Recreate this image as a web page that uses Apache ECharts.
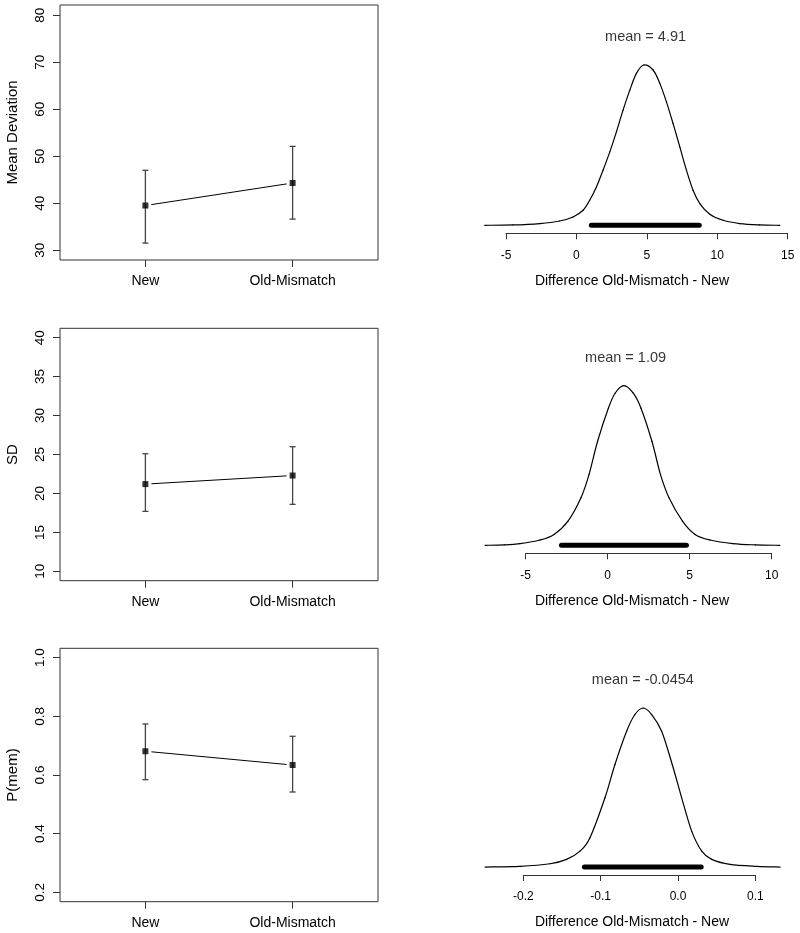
<!DOCTYPE html>
<html><head><meta charset="utf-8">
<script src="https://cdn.jsdelivr.net/npm/echarts@6/dist/echarts.min.js"></script>
<style>html,body{margin:0;padding:0;background:#fff}#c{width:800px;height:933px}</style>
</head><body><div id="c"></div>
<script>
// ---------- data ----------
const conditions = ["New", "Old-Mismatch"];

const meanDevMean = [39.5, 44.3];
const meanDevLo   = [31.5, 36.6];
const meanDevHi   = [47.0, 52.1];

const sdMean = [21.2, 22.3];
const sdLo   = [17.7, 18.6];
const sdHi   = [25.1, 26.0];

const pmemMean = [0.681, 0.634];
const pmemLo   = [0.584, 0.542];
const pmemHi   = [0.774, 0.732];

const yTicksMeanDev = [30, 40, 50, 60, 70, 80];
const yTicksSD      = [10, 15, 20, 25, 30, 35, 40];
const yTicksPmem    = [0.2, 0.4, 0.6, 0.8, 1.0];

const yLabels = ["Mean Deviation", "SD", "P(mem)"];

// posterior densities of the difference Old-Mismatch - New
const diffMeanDevX = [-6.51, -4.5, -2.60, -1.19, -0.24, 0.47, 0.94, 1.42, 1.89, 2.37, 2.84, 3.31, 3.79, 4.26, 4.78, 5.44, 5.92, 6.39, 6.86, 7.34, 7.81, 8.28, 8.76, 9.47, 10.41, 11.60, 13.0, 14.44];
const diffMeanDevY = [0, 0.0004, 0.0022, 0.0055, 0.0106, 0.0192, 0.0320, 0.0491, 0.0705, 0.0939, 0.1195, 0.1473, 0.1729, 0.1943, 0.2050, 0.1986, 0.1815, 0.1579, 0.1303, 0.1003, 0.0705, 0.0448, 0.0278, 0.0141, 0.0064, 0.0022, 0.0005, 0];

const diffSDX = [-7.48, -6.3, -5.35, -4.13, -3.27, -2.42, -1.63, -1.14, -0.62, 0.04, 0.45, 0.99, 1.56, 2.03, 2.70, 3.22, 3.74, 4.56, 5.32, 6.24, 7.64, 9.0, 10.50];
const diffSDY = [0, 0.0006, 0.0023, 0.0073, 0.0151, 0.0334, 0.0656, 0.0976, 0.1434, 0.1893, 0.2100, 0.2204, 0.2100, 0.1893, 0.1434, 0.0976, 0.0656, 0.0334, 0.0151, 0.0073, 0.0023, 0.0006, 0];

const diffPmemX = [-0.2495, -0.2043, -0.1655, -0.1440, -0.1267, -0.1138, -0.0944, -0.0815, -0.0664, -0.0557, -0.0449, -0.0340, -0.0211, -0.0074, 0.0048, 0.0177, 0.0307, 0.0436, 0.0672, 0.1018, 0.1320];
const diffPmemY = [0, 0.045, 0.223, 0.52, 1.08, 1.98, 4.68, 6.93, 9.18, 10.31, 10.75, 10.31, 9.18, 6.93, 4.68, 2.43, 1.08, 0.52, 0.18, 0.045, 0];

const diffMeans = [4.91, 1.09, -0.0454];
const hdiLo = [1.06, -2.82, -0.121];
const hdiHi = [8.72, 4.80, 0.030];

const xTicksMeanDev = [-5, 0, 5, 10, 15];
const xTicksSD      = [-5, 0, 5, 10];
const xTicksPmem    = [-0.2, -0.1, 0.0, 0.1];

const diffLabel = "Difference Old-Mismatch - New";

// ---------- layout ----------
const FONT = "'Liberation Sans', Arial, Helvetica, sans-serif";
const leftGrids = [
  {top: 5,     height: 255,   yMin: 27.9,  yMax: 82.2,  ticks: yTicksMeanDev, fmt: v => String(v)},
  {top: 328.3, height: 252.4, yMin: 8.8,   yMax: 41.2,  ticks: yTicksSD,      fmt: v => String(v)},
  {top: 648.3, height: 253.4, yMin: 0.168, yMax: 1.032, ticks: yTicksPmem,    fmt: v => v.toFixed(1)}
];
const leftData = [
  [meanDevMean, meanDevLo, meanDevHi],
  [sdMean, sdLo, sdHi],
  [pmemMean, pmemLo, pmemHi]
];
const rightGrids = [
  {left: 506,   right: 12.3, top: 65,    bottom: 933 - 233.3, ticks: xTicksMeanDev, fmt: v => String(v), nameTop: 274.5},
  {left: 525.7, right: 28.3, top: 385.7, bottom: 933 - 553.3, ticks: xTicksSD,      fmt: v => String(v), nameTop: 594.5},
  {left: 523.3, right: 44.7, top: 708,   bottom: 933 - 875,   ticks: xTicksPmem,    fmt: v => v.toFixed(1), nameTop: 915.5}
];
const rightData = [
  [diffMeanDevX, diffMeanDevY],
  [diffSDX, diffSDY],
  [diffPmemX, diffPmemY]
];

const grid = [], xAxis = [], yAxis = [], series = [], title = [];

leftGrids.forEach((g, i) => {
  grid.push({left: 60, width: 318, top: g.top, height: g.height, show: true,
             borderColor: '#333', borderWidth: 1, backgroundColor: 'transparent'});
  const catPos = conditions.map((c, j) => j + 1);
  xAxis.push({
    type: 'value', gridIndex: i, min: 0.42, max: 2.58,
    axisLine: {show: false}, splitLine: {show: false},
    axisTick: {show: true, customValues: catPos, length: 7, lineStyle: {color: '#333'}},
    axisLabel: {show: true, customValues: catPos, margin: 14, color: '#000', fontSize: 14, fontFamily: FONT,
                formatter: v => conditions[Math.round(v) - 1]}
  });
  yAxis.push({
    type: 'value', gridIndex: i, min: g.yMin, max: g.yMax,
    name: yLabels[i], nameLocation: 'middle', nameGap: 40, nameRotate: 90,
    nameTextStyle: {color: '#000', fontSize: 15, fontFamily: FONT},
    axisLine: {show: false}, splitLine: {show: false},
    axisTick: {show: true, customValues: g.ticks, length: 7, lineStyle: {color: '#333'}},
    axisLabel: {show: true, customValues: g.ticks, rotate: 90, margin: 13, color: '#000', fontSize: 13.5,
                fontFamily: FONT, formatter: g.fmt}
  });
  const [m, lo, hi] = leftData[i];
  // error bars
  series.push({
    type: 'custom', xAxisIndex: i, yAxisIndex: i, z: 2,
    data: conditions.map((c, j) => [j + 1, lo[j], hi[j]]),
    encode: {x: 0, y: [1, 2]},
    renderItem: (params, api) => {
      const x = api.value(0);
      const pl = api.coord([x, api.value(1)]);
      const ph = api.coord([x, api.value(2)]);
      const w = 3;
      const st = {stroke: '#444', lineWidth: 1.3};
      return {type: 'group', children: [
        {type: 'line', shape: {x1: pl[0], y1: pl[1], x2: ph[0], y2: ph[1]}, style: st},
        {type: 'line', shape: {x1: pl[0] - w, y1: pl[1], x2: pl[0] + w, y2: pl[1]}, style: st},
        {type: 'line', shape: {x1: ph[0] - w, y1: ph[1], x2: ph[0] + w, y2: ph[1]}, style: st}
      ]};
    }
  });
  // connecting line with small gaps at the points (R type = "b")
  series.push({
    type: 'custom', xAxisIndex: i, yAxisIndex: i, z: 3,
    data: conditions.slice(0, -1).map((c, j) => [j + 1, m[j], j + 2, m[j + 1]]),
    encode: {x: [0, 2], y: [1, 3]},
    renderItem: (params, api) => {
      const a = api.coord([api.value(0), api.value(1)]);
      const b = api.coord([api.value(2), api.value(3)]);
      const dx = b[0] - a[0], dy = b[1] - a[1];
      const len = Math.sqrt(dx * dx + dy * dy), gap = 6;
      const ux = dx / len, uy = dy / len;
      return {type: 'line',
              shape: {x1: a[0] + ux * gap, y1: a[1] + uy * gap, x2: b[0] - ux * gap, y2: b[1] - uy * gap},
              style: {stroke: '#000', lineWidth: 1}};
    }
  });
  series.push({
    type: 'scatter', xAxisIndex: i, yAxisIndex: i, z: 4,
    data: conditions.map((c, j) => [j + 1, m[j]]),
    symbol: 'rect', symbolSize: 6, itemStyle: {color: '#000'}
  });
});

rightGrids.forEach((g, k) => {
  const i = k + 3;
  const [xs, ys] = rightData[k];
  const n = xs.length;
  const peak = Math.max(...ys);
  grid.push({left: g.left, right: g.right, top: g.top, bottom: g.bottom});
  xAxis.push({
    type: 'value', gridIndex: i, min: g.ticks[0], max: g.ticks[g.ticks.length - 1],
    axisLine: {show: true, onZero: false, lineStyle: {color: '#333', width: 1}},
    splitLine: {show: false},
    axisTick: {show: true, customValues: g.ticks, length: 6, lineStyle: {color: '#333'}},
    axisLabel: {show: true, customValues: g.ticks, margin: 16, color: '#000', fontSize: 12, fontFamily: FONT,
                formatter: g.fmt}
  });
  yAxis.push({
    type: 'value', gridIndex: i, min: -peak * 0.05, max: peak, show: false
  });
  // density curve: smooth (Catmull-Rom) segments between the read points
  series.push({
    type: 'custom', xAxisIndex: i, yAxisIndex: i, z: 2, clip: false,
    data: xs.map((x, j) => [x, ys[j]]),
    encode: {x: 0, y: 1},
    renderItem: (params, api) => {
      const j = params.dataIndexInside;
      if (j >= n - 1) return {type: 'group', children: []};
      const pt = t => {
        const q = Math.min(Math.max(t, 0), n - 1);
        return api.coord([api.value(0, q), api.value(1, q)]);
      };
      const p0 = pt(j - 1), p1 = pt(j), p2 = pt(j + 1), p3 = pt(j + 2);
      return {
        type: 'bezierCurve',
        shape: {
          x1: p1[0], y1: p1[1], x2: p2[0], y2: p2[1],
          cpx1: p1[0] + (p2[0] - p0[0]) / 6, cpy1: p1[1] + (p2[1] - p0[1]) / 6,
          cpx2: p2[0] - (p3[0] - p1[0]) / 6, cpy2: p2[1] - (p3[1] - p1[1]) / 6
        },
        style: {stroke: '#000', lineWidth: 1.2, fill: null, lineCap: 'round'}
      };
    }
  });
  series.push({
    type: 'line', xAxisIndex: i, yAxisIndex: i, clip: false, z: 3,
    data: [[hdiLo[k], 0], [hdiHi[k], 0]],
    showSymbol: false, symbol: 'none',
    lineStyle: {color: '#000', width: 5, cap: 'round'}
  });
  series.push({
    type: 'scatter', xAxisIndex: i, yAxisIndex: i, clip: false, z: 4,
    data: [[diffMeans[k], peak]],
    symbolSize: 1, itemStyle: {color: 'rgba(0,0,0,0)'},
    label: {show: true, position: 'inside', offset: [0, -28], formatter: 'mean = ' + String(diffMeans[k]),
            color: '#000', fontSize: 14.5, fontFamily: FONT}
  });
  title.push({
    text: diffLabel, left: 632, top: g.nameTop, textAlign: 'center', padding: 0,
    textStyle: {color: '#000', fontSize: 14, fontWeight: 'normal', fontFamily: FONT}
  });
});

const chart = echarts.init(document.getElementById('c'), null, {renderer: 'canvas'});
chart.setOption({
  animation: false, backgroundColor: '#fff',
  title, grid, xAxis, yAxis, series
});
</script>
</body></html>
